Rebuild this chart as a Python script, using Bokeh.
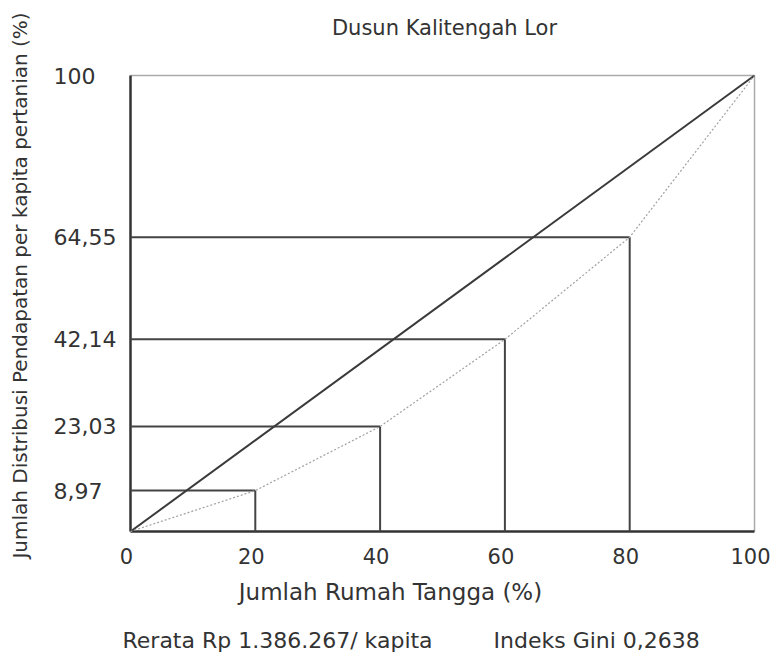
import math
from bokeh.plotting import figure
from bokeh.models import Range1d
from bokeh.core.properties import value
from bokeh.embed import file_html
from bokeh.resources import INLINE

# Data
households = [0, 20, 40, 60, 80, 100]           # cumulative % of households
income = [0, 8.97, 23.03, 42.14, 64.55, 100]     # cumulative % of income
y_tick_values = [8.97, 23.03, 42.14, 64.55, 100]
y_tick_labels = ["8,97", "23,03", "42,14", "64,55", "100"]
x_tick_values = [0, 20, 40, 60, 80, 100]
x_tick_labels = ["0", "20", "40", "60", "80", "100"]

FONT = "DejaVu Sans"
TXT = "#333333"

# canvas geometry (pixels) of the chart box
W, H = 777, 655
LEFT, RIGHT, TOP, BOTTOM = 130, 754, 75, 531
sx = (RIGHT - LEFT) / 100.0
sy = (BOTTOM - TOP) / 100.0


def px2x(px):
    return (px - LEFT) / sx


def py2y(py):
    return (BOTTOM - py) / sy


p = figure(width=W, height=H, output_backend="svg", toolbar_location=None,
           x_range=Range1d(px2x(0), px2x(W)), y_range=Range1d(py2y(H), py2y(0)),
           x_axis_location=None, y_axis_location=None, min_border=0)
p.grid.visible = False
p.background_fill_color = "white"
p.border_fill_color = "white"
p.outline_line_color = None

# chart box: light top/right, dark left/bottom axes
p.segment(x0=[0, 100], y0=[100, 0], x1=[100, 100], y1=[100, 100], line_color="#aaaaaa", line_width=1.5)
p.segment(x0=[0, 0], y0=[0, 0], x1=[0, 100], y1=[100, 0], line_color="#333333", line_width=2.5)

# step lines (rectangles)
xs = households[1:-1]
ys = income[1:-1]
p.segment(x0=[0] * len(xs), y0=ys, x1=xs, y1=ys, line_color="#444444", line_width=2)
p.segment(x0=xs, y0=ys, x1=xs, y1=[0] * len(xs), line_color="#444444", line_width=2)

# line of equality
p.line([households[0], households[-1]], [income[0], income[-1]], line_color="#3a3a3a", line_width=2)
# Lorenz curve
p.line(households, income, line_color="#a0a0a0", line_width=1.2, line_dash="2 2")

# tick labels
p.text(x=x_tick_values, y=[py2y(555)] * len(x_tick_values), text=x_tick_labels,
       text_font=value(FONT), text_font_size="21px", text_color=TXT,
       text_align="center", text_baseline="middle", x_offset=-4)
p.text(x=[px2x(53)] * len(y_tick_values), y=y_tick_values, text=y_tick_labels,
       text_font=value(FONT), text_font_size="22px", text_color=TXT,
       text_align="left", text_baseline="alphabetic")


def label(px, py, text, size, align="center", angle=0.0):
    p.text(x=[px2x(px)], y=[py2y(py)], text=[text], angle=angle,
           text_font=value(FONT), text_font_size=size, text_color=TXT,
           text_align=align, text_baseline="middle")


label(444, 27, "Dusun Kalitengah Lor", "21px")
label(19, 285, "Jumlah Distribusi Pendapatan per kapita pertanian (%)", "20px", angle=math.pi / 2)
label(390, 591, "Jumlah Rumah Tangga (%)", "23px")
label(122, 640, "Rerata Rp 1.386.267/ kapita", "22px", align="left")
label(493, 640, "Indeks Gini 0,2638", "22px", align="left")

open("out.html", "w").write(file_html(p, INLINE))
